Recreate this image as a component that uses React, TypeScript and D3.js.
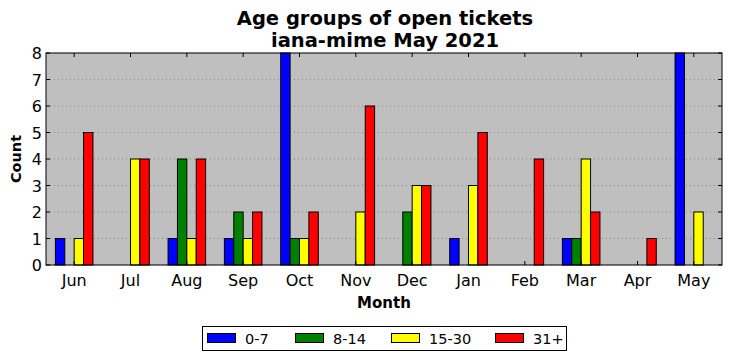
import { useEffect, useRef } from 'react';
import * as d3 from 'd3';

const months = ['Jun', 'Jul', 'Aug', 'Sep', 'Oct', 'Nov', 'Dec', 'Jan', 'Feb', 'Mar', 'Apr', 'May'];
const groups = ['0-7', '8-14', '15-30', '31+'];
const colors = ['#0000ff', '#008000', '#ffff00', '#ff0000'];

const age0to7 = [1, 0, 1, 1, 8, 0, 0, 1, 0, 1, 0, 8];
const age8to14 = [0, 0, 4, 2, 1, 0, 2, 0, 0, 1, 0, 0];
const age15to30 = [1, 4, 1, 1, 1, 2, 3, 3, 0, 4, 0, 2];
const age31plus = [5, 4, 4, 2, 2, 6, 3, 5, 4, 2, 1, 0];

const yTicks = [0, 1, 2, 3, 4, 5, 6, 7, 8];

export default function App() {
  const ref = useRef<SVGSVGElement>(null);

  useEffect(() => {
    if (!ref.current) return;
    const svg = d3.select(ref.current);
    svg.selectAll('*').remove();

    const W = 732, H = 361;
    const left = 46, right = 722, top = 53, bottom = 265;
    const font = 'DejaVu Sans, sans-serif';

    svg.append('rect').attr('width', W).attr('height', H).attr('fill', '#fff');

    const x = d3.scaleLinear().domain([-0.5, 11.5]).range([left, right]);
    const y = d3.scaleLinear().domain([0, 8]).range([bottom, top]);
    const bw = 1 / 6;

    svg.append('rect')
      .attr('x', left).attr('y', top)
      .attr('width', right - left).attr('height', bottom - top)
      .attr('fill', '#bfbfbf');

    // grid
    svg.append('g').selectAll('line')
      .data(yTicks)
      .enter()
      .append('line')
      .attr('x1', left).attr('x2', right)
      .attr('y1', d => y(d)).attr('y2', d => y(d))
      .attr('stroke', '#000').attr('stroke-opacity', 0.35)
      .attr('stroke-width', 0.8)
      .attr('stroke-dasharray', '1,3');

    const series = [age0to7, age8to14, age15to30, age31plus];
    series.forEach((vals, s) => {
      svg.append('g').selectAll('rect')
        .data(vals)
        .enter()
        .append('rect')
        .attr('x', (_d, i) => x(i + (s - 2) * bw))
        .attr('width', x(bw) - x(0))
        .attr('y', d => y(d))
        .attr('height', d => y(0) - y(d))
        .attr('fill', colors[s])
        .attr('stroke', '#000')
        .attr('stroke-width', 1);
    });

    // frame
    svg.append('rect')
      .attr('x', left).attr('y', top)
      .attr('width', right - left).attr('height', bottom - top)
      .attr('fill', 'none').attr('stroke', '#000').attr('stroke-width', 1);

    // ticks (inward, all sides)
    const tk = svg.append('g').attr('stroke', '#000').attr('stroke-width', 1);
    months.forEach((_m, i) => {
      tk.append('line').attr('x1', x(i)).attr('x2', x(i)).attr('y1', bottom).attr('y2', bottom - 4);
      tk.append('line').attr('x1', x(i)).attr('x2', x(i)).attr('y1', top).attr('y2', top + 4);
    });
    yTicks.forEach(t => {
      tk.append('line').attr('x1', left).attr('x2', left + 4).attr('y1', y(t)).attr('y2', y(t));
      tk.append('line').attr('x1', right).attr('x2', right - 4).attr('y1', y(t)).attr('y2', y(t));
    });

    svg.append('g').selectAll('text')
      .data(months)
      .enter()
      .append('text')
      .attr('x', (_d, i) => x(i))
      .attr('y', bottom + 21)
      .attr('text-anchor', 'middle')
      .style('font-family', font).style('font-size', '16px')
      .text(d => d);

    svg.append('g').selectAll('text')
      .data(yTicks)
      .enter()
      .append('text')
      .attr('x', left - 4)
      .attr('y', d => y(d) + 6)
      .attr('text-anchor', 'end')
      .style('font-family', font).style('font-size', '16px')
      .text(d => d);

    svg.append('text')
      .attr('x', (left + right) / 2).attr('y', 308)
      .attr('text-anchor', 'middle')
      .style('font-family', font).style('font-size', '15px').style('font-weight', 'bold')
      .text('Month');

    svg.append('text')
      .attr('transform', `translate(21,${(top + bottom) / 2}) rotate(-90)`)
      .attr('text-anchor', 'middle')
      .style('font-family', font).style('font-size', '14.5px').style('font-weight', 'bold')
      .text('Count');

    svg.append('text')
      .attr('x', (left + right) / 2 + 1).attr('y', 25)
      .attr('text-anchor', 'middle')
      .style('font-family', font).style('font-size', '19.5px').style('font-weight', 'bold')
      .text('Age groups of open tickets');
    svg.append('text')
      .attr('x', (left + right) / 2 + 1).attr('y', 47)
      .attr('text-anchor', 'middle')
      .style('font-family', font).style('font-size', '19.5px').style('font-weight', 'bold')
      .text('iana-mime May 2021');

    // legend
    const lg = svg.append('g');
    lg.append('rect')
      .attr('x', 202.5).attr('y', 326.5).attr('width', 364).attr('height', 24)
      .attr('fill', '#fff').attr('stroke', '#000').attr('stroke-width', 1);
    const lx = [207, 295, 391, 495];
    groups.forEach((g, i) => {
      lg.append('rect')
        .attr('x', lx[i] + 0.5).attr('y', 333.5).attr('width', 28).attr('height', 9)
        .attr('fill', colors[i]).attr('stroke', '#000').attr('stroke-width', 1);
      lg.append('text')
        .attr('x', lx[i] + 38).attr('y', 343.5)
        .style('font-family', font).style('font-size', '14.5px')
        .text(g);
    });
  }, []);

  return (
    <svg ref={ref} width={732} height={361} style={{ display: 'block', position: 'absolute', left: 0, top: 0 }} />
  );
}
